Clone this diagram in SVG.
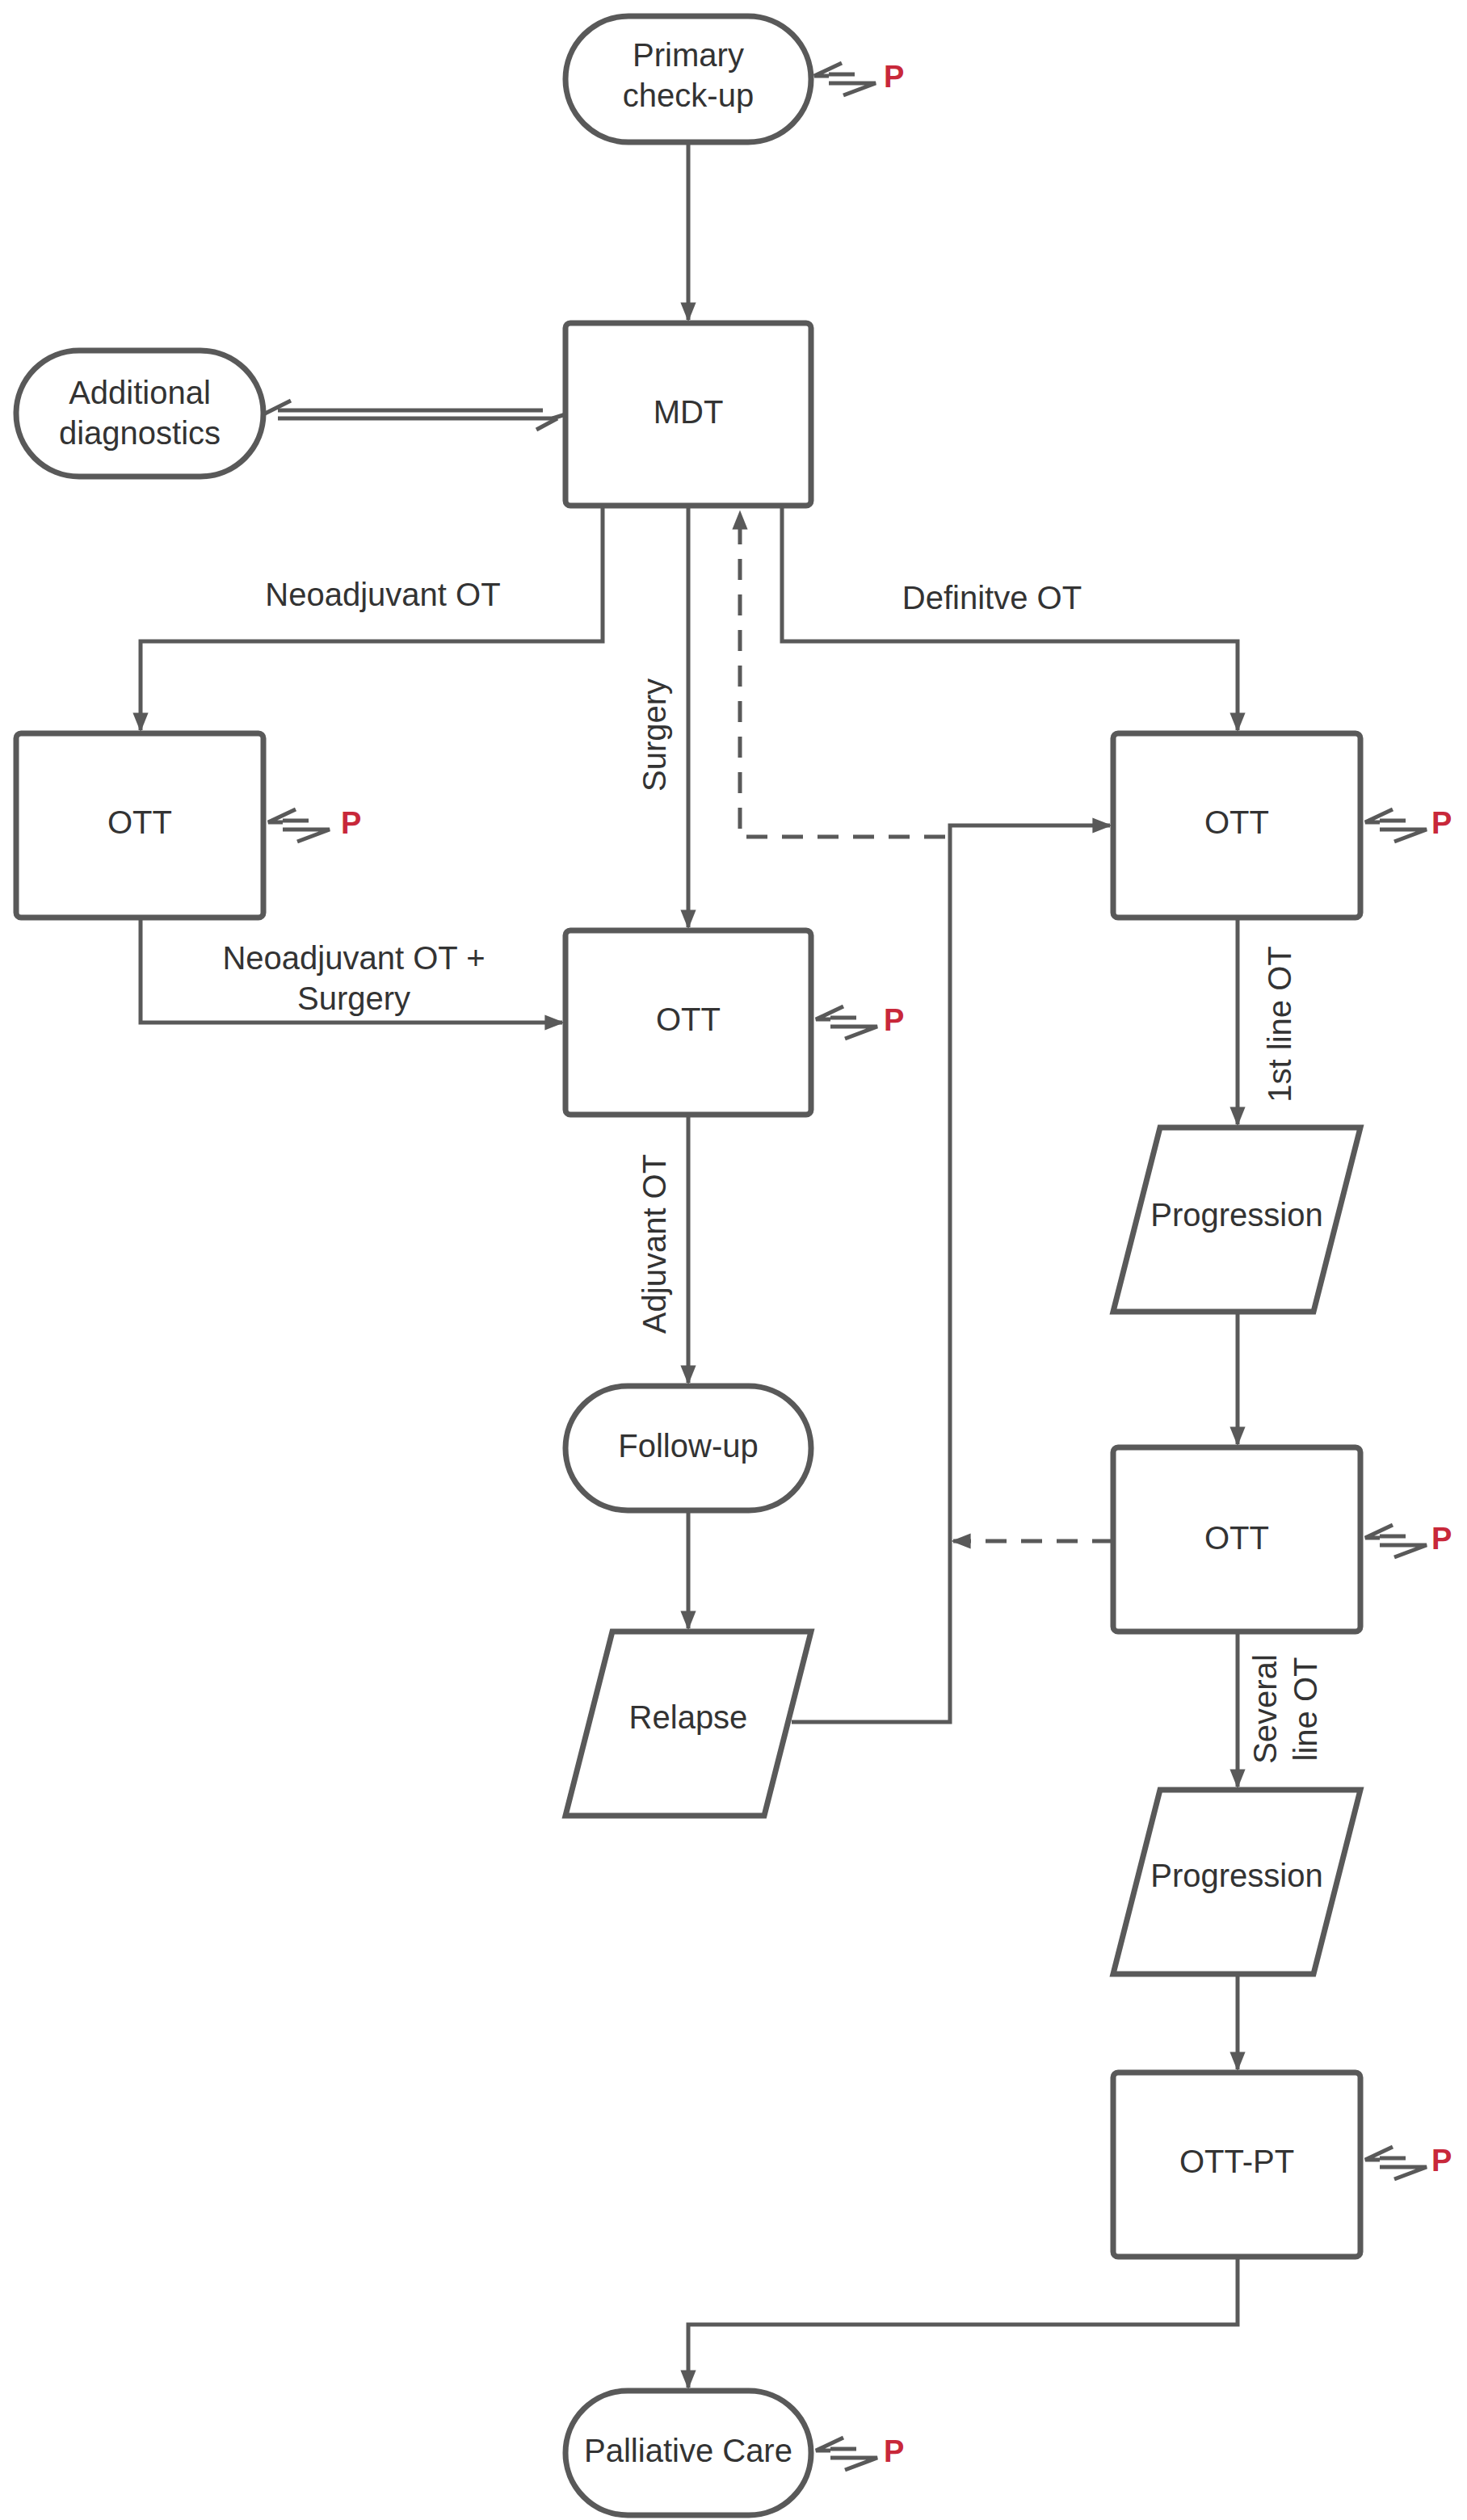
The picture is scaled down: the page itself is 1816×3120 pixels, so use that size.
<svg xmlns="http://www.w3.org/2000/svg" width="1816" height="3120" viewBox="0 0 1816 3120">
<style>
.n{fill:#fff;stroke:#595959;stroke-width:7}
.c{fill:none;stroke:#595959;stroke-width:5}
.d{stroke-dasharray:26 18}
.t{font-family:"Liberation Sans",Arial,sans-serif;font-size:40px;fill:#333;text-anchor:middle}
.p{font-family:"Liberation Sans",Arial,sans-serif;font-size:38px;font-weight:bold;fill:#c8283a}
</style>
<defs>
<marker id="a" viewBox="0 0 10 8" refX="9" refY="4" markerWidth="24" markerHeight="20" orient="auto" markerUnits="userSpaceOnUse"><path d="M0,0L10,4L0,8z" fill="#595959"/></marker>
<g id="pi"><path d="M36,-16L2,0L20,0M20,-2H52M20,9H78L38,24" fill="none" stroke="#595959" stroke-width="5"/></g>
</defs>
<g id="connectors">
<path class="c" d="M852,176V396" marker-end="url(#a)"/>
<path class="c" d="M344,508H672M344,518H690"/>
<path class="c" d="M700,513L684,518M326,513L360,496"/>
<path class="c" d="M690,518L664,532"/>
<path class="c" d="M746,626V794H174V904" marker-end="url(#a)"/>
<path class="c" d="M852,626V1148" marker-end="url(#a)"/>
<path class="c" d="M968,626V794H1532V904" marker-end="url(#a)"/>
<path class="c d" d="M1170,1036H916V634" marker-end="url(#a)"/>
<path class="c" d="M980,2132H1176V1022H1374" marker-end="url(#a)"/>
<path class="c" d="M174,1136V1266H696" marker-end="url(#a)"/>
<path class="c" d="M852,1380V1712" marker-end="url(#a)"/>
<path class="c" d="M852,1870V2016" marker-end="url(#a)"/>
<path class="c" d="M1532,1136V1392" marker-end="url(#a)"/>
<path class="c" d="M1532,1624V1788" marker-end="url(#a)"/>
<path class="c d" d="M1378,1908H1180" marker-end="url(#a)"/>
<path class="c" d="M1532,2020V2212" marker-end="url(#a)"/>
<path class="c" d="M1532,2444V2562" marker-end="url(#a)"/>
<path class="c" d="M1532,2794V2878H852V2956" marker-end="url(#a)"/>
<text class="t" x="474" y="750">Neoadjuvant OT</text>
<text class="t" x="1228" y="754">Definitve OT</text>
<text class="t" transform="translate(824,910) rotate(-90)">Surgery</text>
<text class="t" x="438" y="1200">Neoadjuvant OT +</text>
<text class="t" x="438" y="1250">Surgery</text>
<text class="t" transform="translate(824,1540) rotate(-90)">Adjuvant OT</text>
<text class="t" transform="translate(1598,1268) rotate(-90)">1st line OT</text>
<text class="t" transform="translate(1580,2116) rotate(-90)">Several</text>
<text class="t" transform="translate(1630,2116) rotate(-90)">line OT</text>
</g>
<g id="primary"><rect class="n" x="700" y="20" width="304" height="156" rx="78"/><text class="t" x="852" y="82">Primary</text><text class="t" x="852" y="132">check-up</text><use href="#pi" x="1006" y="94"/><text class="p" x="1094" y="108">P</text></g>
<g id="mdt"><rect class="n" x="700" y="400" width="304" height="226" rx="6"/><text class="t" x="852" y="524">MDT</text></g>
<g id="adddiag"><rect class="n" x="20" y="434" width="306" height="156" rx="78"/><text class="t" x="173" y="500">Additional</text><text class="t" x="173" y="550">diagnostics</text></g>
<g id="ottleft"><rect class="n" x="20" y="908" width="306" height="228" rx="6"/><text class="t" x="173" y="1032">OTT</text><use href="#pi" x="330" y="1018"/><text class="p" x="422" y="1032">P</text></g>
<g id="ottmid"><rect class="n" x="700" y="1152" width="304" height="228" rx="6"/><text class="t" x="852" y="1276">OTT</text><use href="#pi" x="1008" y="1262"/><text class="p" x="1094" y="1276">P</text></g>
<g id="ottright"><rect class="n" x="1378" y="908" width="306" height="228" rx="6"/><text class="t" x="1531" y="1032">OTT</text><use href="#pi" x="1688" y="1018"/><text class="p" x="1772" y="1032">P</text></g>
<g id="prog1"><path class="n" d="M1436,1396H1684L1626,1624H1378Z"/><text class="t" x="1531" y="1518">Progression</text></g>
<g id="ott2"><rect class="n" x="1378" y="1792" width="306" height="228" rx="6"/><text class="t" x="1531" y="1918">OTT</text><use href="#pi" x="1688" y="1904"/><text class="p" x="1772" y="1918">P</text></g>
<g id="prog2"><path class="n" d="M1436,2216H1684L1626,2444H1378Z"/><text class="t" x="1531" y="2336">Progression</text></g>
<g id="ottpt"><rect class="n" x="1378" y="2566" width="306" height="228" rx="6"/><text class="t" x="1531" y="2690">OTT-PT</text><use href="#pi" x="1688" y="2674"/><text class="p" x="1772" y="2688">P</text></g>
<g id="followup"><rect class="n" x="700" y="1716" width="304" height="154" rx="77"/><text class="t" x="852" y="1804">Follow-up</text></g>
<g id="relapse"><path class="n" d="M758,2020H1004L946,2248H700Z"/><text class="t" x="852" y="2140">Relapse</text></g>
<g id="palliative"><rect class="n" x="700" y="2960" width="304" height="154" rx="77"/><text class="t" x="852" y="3048">Palliative Care</text><use href="#pi" x="1008" y="3034"/><text class="p" x="1094" y="3048">P</text></g>
</svg>
